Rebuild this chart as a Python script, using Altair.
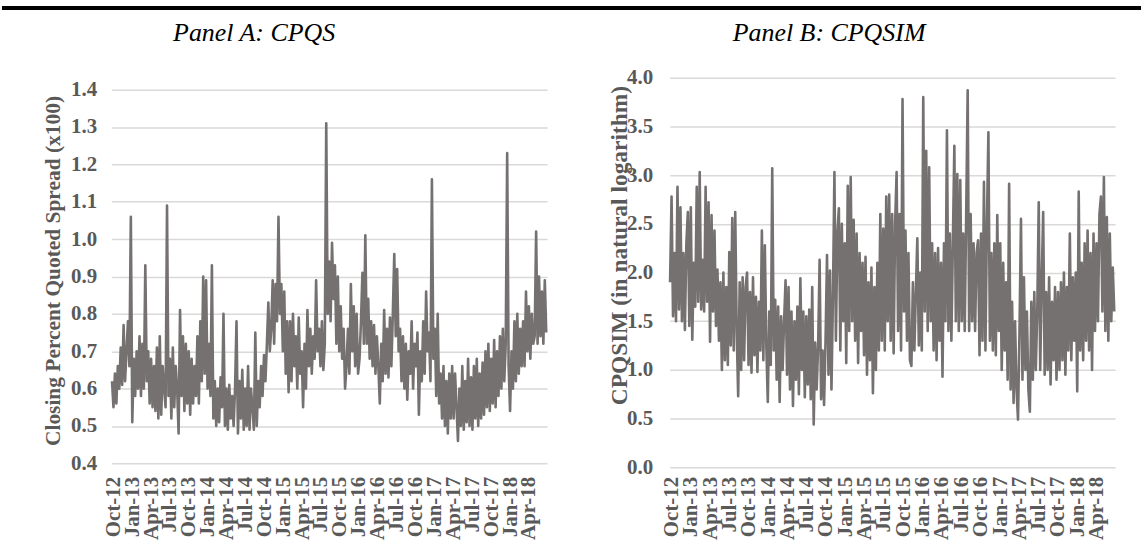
import altair as alt
import pandas as pd

# Weekly readings of the closing percent quoted spread (x100), one list per calendar year
cpqs_2012 = [0.62, 0.55, 0.64, 0.56, 0.66, 0.60, 0.71, 0.61, 0.77, 0.62, 0.70, 0.78, 0.66, 1.06, 0.51]
cpqs_2013 = [0.68, 0.58, 0.70, 0.60, 0.74, 0.58, 0.72, 0.60, 0.93, 0.62, 0.70, 0.56, 0.68,
             0.55, 0.66, 0.54, 0.71, 0.52, 0.74, 0.53, 0.66, 0.60, 0.55, 1.09, 0.58, 0.68,
             0.52, 0.71, 0.55, 0.66, 0.60, 0.48, 0.81, 0.58, 0.74, 0.54, 0.72, 0.56, 0.70,
             0.53, 0.68, 0.56, 0.66, 0.58, 0.74, 0.56, 0.78, 0.62, 0.90, 0.64, 0.89, 0.60]
cpqs_2014 = [0.72, 0.58, 0.93, 0.52, 0.62, 0.50, 0.60, 0.51, 0.63, 0.55, 0.80, 0.50, 0.60,
             0.49, 0.61, 0.52, 0.58, 0.50, 0.60, 0.78, 0.48, 0.62, 0.52, 0.65, 0.49, 0.60,
             0.50, 0.66, 0.49, 0.60, 0.55, 0.49, 0.75, 0.50, 0.62, 0.55, 0.66, 0.58, 0.69,
             0.62, 0.72, 0.83, 0.70, 0.76, 0.89, 0.72, 0.88, 0.78, 1.06, 0.80, 0.88, 0.70]
cpqs_2015 = [0.86, 0.64, 0.78, 0.59, 0.78, 0.62, 0.80, 0.66, 0.74, 0.60, 0.79, 0.64, 0.70,
             0.55, 0.72, 0.60, 0.81, 0.66, 0.76, 0.64, 0.74, 0.68, 0.89, 0.70, 0.76, 0.66,
             0.78, 0.65, 0.72, 1.31, 0.80, 0.94, 0.78, 0.99, 0.84, 0.93, 0.72, 0.90, 0.70,
             0.82, 0.68, 0.76, 0.60, 0.66, 0.76, 0.64, 0.88, 0.70, 0.82, 0.66, 0.80, 0.64]
cpqs_2016 = [0.68, 0.78, 0.91, 0.72, 1.01, 0.72, 0.84, 0.68, 0.78, 0.66, 0.77, 0.64, 0.74,
             0.66, 0.56, 0.72, 0.62, 0.81, 0.64, 0.76, 0.63, 0.79, 0.66, 0.80, 0.96, 0.74,
             0.92, 0.70, 0.76, 0.62, 0.74, 0.60, 0.72, 0.57, 0.70, 0.64, 0.78, 0.60, 0.72,
             0.66, 0.75, 0.53, 0.70, 0.62, 0.78, 0.64, 0.86, 0.70, 0.75, 0.62, 1.16, 0.68]
cpqs_2017 = [0.76, 0.58, 0.80, 0.56, 0.64, 0.52, 0.66, 0.50, 0.62, 0.48, 0.64, 0.52, 0.66,
             0.52, 0.64, 0.55, 0.46, 0.60, 0.50, 0.66, 0.49, 0.62, 0.51, 0.68, 0.50, 0.63,
             0.49, 0.66, 0.52, 0.68, 0.50, 0.64, 0.52, 0.67, 0.53, 0.70, 0.55, 0.72, 0.54,
             0.68, 0.56, 0.73, 0.55, 0.70, 0.58, 0.74, 0.60, 0.76, 0.62, 0.72, 1.23, 0.66]
cpqs_2018 = [0.54, 0.70, 0.60, 0.78, 0.62, 0.80, 0.64, 0.76, 0.66, 0.78, 0.66, 0.86, 0.70,
             0.82, 0.68, 0.80, 0.72, 0.74, 1.02, 0.72, 0.90, 0.74, 0.86, 0.72, 0.89, 0.75]

# Weekly readings of CPQSIM (natural logarithm), one list per calendar year
cpqsim_2012 = [1.90, 2.78, 1.55, 2.20, 1.50, 2.88, 1.62, 2.67, 1.50, 2.20, 1.41, 2.30, 2.62, 1.45, 2.67]
cpqsim_2013 = [1.31, 2.10, 1.65, 2.88, 1.70, 3.03, 1.62, 2.13, 1.60, 2.88, 1.70, 2.72, 1.29,
               2.59, 1.60, 2.43, 1.45, 2.03, 1.30, 1.90, 1.00, 2.00, 1.10, 1.85, 1.05, 2.21,
               1.25, 2.56, 1.20, 2.62, 1.40, 0.73, 1.90, 1.00, 1.95, 1.10, 1.85, 2.00, 1.05,
               1.80, 0.97, 1.95, 1.15, 1.75, 0.98, 1.70, 1.20, 2.43, 1.10, 2.28, 1.25, 0.67]
cpqsim_2014 = [1.60, 1.05, 3.07, 1.20, 1.72, 0.90, 1.65, 0.67, 1.55, 1.00, 1.50, 1.92, 0.95,
               1.85, 0.80, 1.60, 0.63, 1.50, 0.90, 1.65, 0.75, 1.94, 1.00, 1.60, 0.72, 1.55,
               0.85, 1.62, 0.70, 1.85, 0.44, 1.28, 0.80, 1.25, 2.13, 0.70, 1.20, 0.64, 1.30,
               2.18, 0.95, 2.02, 0.80, 1.75, 3.03, 1.30, 2.40, 2.66, 1.20, 2.50, 1.50, 2.30]
cpqsim_2015 = [1.07, 2.89, 1.40, 2.98, 1.50, 2.54, 1.30, 2.40, 1.07, 2.20, 1.40, 2.10, 1.15,
               2.16, 0.95, 1.90, 1.10, 2.05, 0.76, 1.85, 1.00, 2.10, 1.20, 2.60, 1.30, 2.45,
               1.20, 2.78, 1.50, 2.80, 1.30, 2.60, 1.17, 2.50, 3.03, 1.40, 2.60, 1.20, 3.78,
               1.60, 2.43, 1.30, 2.20, 1.10, 1.04, 1.90, 1.20, 1.80, 2.35, 1.25, 2.00, 1.20]
cpqsim_2016 = [3.80, 1.60, 3.25, 1.40, 3.08, 1.50, 2.30, 1.20, 2.20, 1.10, 2.25, 1.30, 2.10,
               0.93, 2.30, 1.50, 3.46, 1.40, 2.40, 1.30, 2.30, 3.30, 1.50, 3.01, 1.40, 2.95,
               1.50, 2.40, 1.40, 2.60, 3.87, 1.40, 2.60, 1.50, 2.30, 1.40, 2.20, 2.33, 1.15,
               2.40, 1.30, 2.93, 1.20, 2.50, 3.44, 1.30, 2.20, 1.20, 2.30, 1.15, 2.59, 1.40]
cpqsim_2017 = [2.30, 1.00, 2.10, 1.20, 1.90, 0.90, 2.91, 0.80, 1.70, 0.66, 1.50, 0.80, 0.49,
               1.40, 2.55, 0.90, 1.95, 1.00, 1.60, 0.80, 0.57, 1.70, 0.90, 1.80, 1.00, 1.60,
               2.72, 1.00, 1.90, 2.62, 0.95, 1.80, 1.00, 1.95, 0.85, 1.70, 1.10, 1.85, 0.90,
               1.80, 1.00, 1.90, 1.10, 2.00, 0.95, 1.85, 1.20, 2.40, 1.10, 1.95, 1.30, 2.00]
cpqsim_2018 = [0.78, 2.83, 1.20, 2.10, 1.10, 2.30, 1.30, 2.43, 1.20, 2.20, 1.00, 2.40, 1.40,
               2.30, 1.50, 2.60, 2.78, 1.60, 2.98, 1.40, 2.57, 1.30, 2.40, 1.50, 2.05, 1.60]

# Quarterly tick dates on the time axis
tick_dates = ["2012-10-01", "2013-01-01", "2013-04-01", "2013-07-01", "2013-10-01",
              "2014-01-01", "2014-04-01", "2014-07-01", "2014-10-01", "2015-01-01",
              "2015-04-01", "2015-07-01", "2015-10-01", "2016-01-01", "2016-04-01",
              "2016-07-01", "2016-10-01", "2017-01-01", "2017-04-01", "2017-07-01",
              "2017-10-01", "2018-01-01", "2018-04-01"]
cpqs_ticks = [0.4, 0.5, 0.6, 0.7, 0.8, 0.9, 1.0, 1.1, 1.2, 1.3, 1.4]
cpqsim_ticks = [0.0, 0.5, 1.0, 1.5, 2.0, 2.5, 3.0, 3.5, 4.0]

cpqs = cpqs_2012 + cpqs_2013 + cpqs_2014 + cpqs_2015 + cpqs_2016 + cpqs_2017 + cpqs_2018
cpqsim = (cpqsim_2012 + cpqsim_2013 + cpqsim_2014 + cpqsim_2015 + cpqsim_2016
          + cpqsim_2017 + cpqsim_2018)

dates = pd.date_range("2012-09-24", periods=len(cpqs), freq="7D").strftime("%Y-%m-%d")
df = pd.DataFrame({"date": dates, "cpqs": cpqs, "cpqsim": cpqsim})


def to_dt(s):
    y, m, d = (int(p) for p in s.split("-"))
    return alt.DateTime(year=y, month=m, date=d, utc=True)


SERIF = "Liberation Serif"
TEXT = "#595959"
GRID = "#D9D9D9"
LINE = "#767171"

x_domain = [to_dt("2012-09-22"), to_dt("2018-06-29")]
tick_values = [to_dt(s) for s in tick_dates]


def x_enc(pad):
    return alt.X(
        "date:T",
        scale=alt.Scale(type="utc", domain=x_domain),
        axis=alt.Axis(
            values=tick_values, format="%b-%y", labelAngle=270, title=None,
            labelFont=SERIF, labelFontSize=21, labelFontWeight="bold", labelColor=TEXT,
            grid=False, domain=False, ticks=False, labelPadding=pad,
            labelOverlap=False, labelFlush=False, labelBound=False,
        ),
    )


def y_axis(values, title, title_size, title_x, pad, title_y=None):
    kw = dict(
        values=values, format=".1f", title=title,
        labelFont=SERIF, labelFontSize=21, labelFontWeight="bold", labelColor=TEXT,
        labelPadding=pad, domain=False, ticks=False,
        grid=True, gridColor=GRID, gridWidth=1.5,
        titleFont=SERIF, titleFontSize=title_size, titleFontWeight="bold", titleColor=TEXT,
        titleX=title_x, titleAlign="center", titleBaseline="middle", titleAngle=270,
    )
    if title_y is not None:
        kw["titleY"] = title_y
    return alt.Axis(**kw)


base = alt.Chart(df)

line_a = base.mark_line(color=LINE, strokeWidth=2.6, strokeJoin="round").encode(
    x=x_enc(13),
    y=alt.Y("cpqs:Q",
            scale=alt.Scale(domain=[0.4, 1.432], nice=False, zero=False),
            axis=y_axis(cpqs_ticks, "Closing Percent Quoted Spread (x100)", 21.5, -58, 15)),
)
line_b = base.mark_line(color=LINE, strokeWidth=2.6, strokeJoin="round").encode(
    x=x_enc(9),
    y=alt.Y("cpqsim:Q",
            scale=alt.Scale(domain=[0, 4], nice=False),
            axis=y_axis(cpqsim_ticks, "CPQSIM (in natural logarithm)", 23.5, -50, 17, 168)),
)

one = pd.DataFrame({"k": [0]})
title_a = alt.Chart(pd.DataFrame({"t": ["Panel A: CPQS"]})).mark_text(
    font=SERIF, fontSize=26, fontStyle="italic", color="black",
    align="center", baseline="middle",
).encode(text="t:N", x=alt.value(143), y=alt.value(-45))
title_b = alt.Chart(pd.DataFrame({"t": ["Panel B: CPQSIM"]})).mark_text(
    font=SERIF, fontSize=26, fontStyle="italic", color="black",
    align="center", baseline="middle",
).encode(text="t:N", x=alt.value(160), y=alt.value(-45))

# heavy black rule across the top of the figure
top_rule = alt.Chart(one).mark_rule(color="black", strokeWidth=4).encode(
    x=alt.value(-110), x2=alt.value(1033), y=alt.value(-70)
)

panel_a = alt.layer(line_a, title_a, top_rule).properties(width=437, height=387)
panel_b = alt.layer(line_b, title_b).properties(width=447, height=391)

chart = (
    alt.hconcat(panel_a, panel_b, spacing=123, bounds="flush")
    .properties(padding={"left": 0, "top": 5, "right": 0, "bottom": 0}, background="white")
    .configure_view(strokeWidth=0)
)

chart.save("out.html", embed_options={"renderer": "svg", "actions": False})
